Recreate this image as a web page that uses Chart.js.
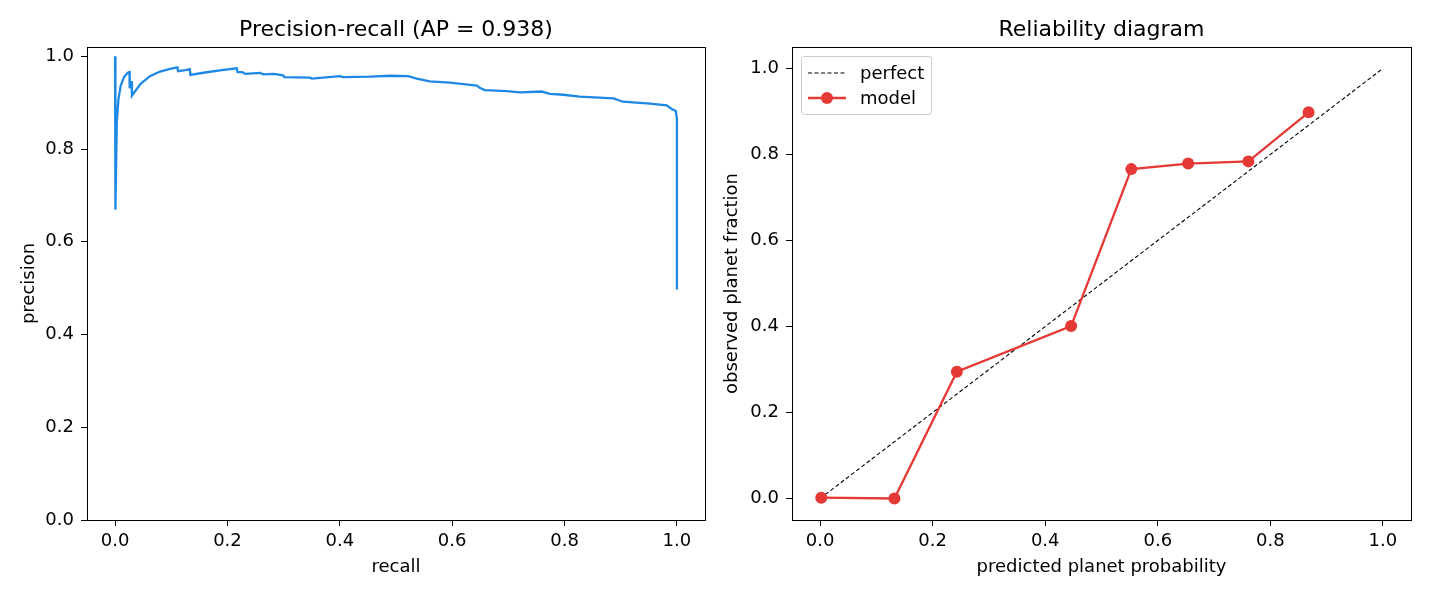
<!DOCTYPE html>
<html>
<head>
<meta charset="utf-8">
<script src="https://cdn.jsdelivr.net/npm/chart.js@4.4.1/dist/chart.umd.min.js"></script>
<style>
  body { margin: 0; background: #fff; }
  #wrap { position: relative; width: 1430px; height: 596px; }
  canvas { position: absolute; top: 0; }
  #prChart { left: 0; }
  #relChart { left: 715px; }
</style>
</head>
<body>
<div id="wrap">
  <canvas id="prChart" width="715" height="596"></canvas>
  <canvas id="relChart" width="715" height="596"></canvas>
</div>
<script>
// precision-recall curve, points
let recall = [0.000, 0.0006, 0.003, 0.006, 0.010, 0.016, 0.022, 0.0255, 0.026, 0.028, 0.0296, 0.030,
    0.045, 0.062, 0.080, 0.098, 0.111, 0.112, 0.125, 0.133, 0.134, 0.160, 0.190, 0.2165, 0.218,
    0.226, 0.232, 0.258, 0.264, 0.282, 0.299, 0.301, 0.347, 0.350, 0.400, 0.406, 0.454, 0.489,
    0.522, 0.537, 0.560, 0.596, 0.620, 0.644, 0.649, 0.658, 0.697, 0.721, 0.759, 0.774, 0.798,
    0.827, 0.887, 0.904, 0.952, 0.982, 0.990, 0.998, 1.000, 1.000];
let precision = [1.000, 0.669, 0.858, 0.908, 0.937, 0.955, 0.964, 0.966, 0.931, 0.944, 0.944, 0.915,
    0.940, 0.957, 0.967, 0.973, 0.976, 0.968, 0.970, 0.972, 0.960, 0.965, 0.970, 0.974, 0.966,
    0.966, 0.962, 0.964, 0.961, 0.962, 0.959, 0.955, 0.954, 0.952, 0.957, 0.955, 0.956, 0.958,
    0.957, 0.952, 0.946, 0.943, 0.940, 0.937, 0.932, 0.927, 0.925, 0.922, 0.924, 0.919, 0.917,
    0.913, 0.909, 0.902, 0.898, 0.894, 0.887, 0.882, 0.865, 0.497];

// reliability diagram
let perfectX = [0, 1];
let perfectY = [0, 1];
let binProb = [0.002, 0.132, 0.243, 0.446, 0.553, 0.654, 0.761, 0.868];
let binFrac = [0.002, 0.000, 0.295, 0.401, 0.766, 0.779, 0.784, 0.898];

let unitTicks = [0, 0.2, 0.4, 0.6, 0.8, 1.0];

Chart.defaults.font.family = '"DejaVu Sans", sans-serif';
Chart.defaults.color = '#000';

function toPoints(xs, ys) {
    return xs.map((x, i) => ({x: x, y: ys[i]}));
}

function makeAxis(min, max, label, horizontal, titlePad, fitSize) {
    return {
        type: 'linear',
        min: min,
        max: max,
        afterBuildTicks: (scale) => { scale.ticks = unitTicks.map((v) => ({value: v})); },
        afterFit: (scale) => {
            if (horizontal) scale.height = fitSize;
            else scale.width = fitSize;
        },
        ticks: {
            font: {size: 18},
            padding: horizontal ? 5 : 7,
            maxRotation: 0,
            autoSkip: false,
            callback: (v) => v.toFixed(1)
        },
        grid: {drawOnChartArea: false, color: '#000', tickLength: 6},
        border: {color: '#000', width: 1},
        title: {
            display: true,
            text: label,
            font: {size: 18},
            padding: horizontal ? {top: 0, bottom: titlePad} : {top: titlePad, bottom: 0}
        }
    };
}

// matplotlib style box round the plot area
const frame = {
    id: 'frame',
    afterDraw(chart) {
        let a = chart.chartArea;
        let ctx = chart.ctx;
        ctx.save();
        ctx.strokeStyle = '#000';
        ctx.lineWidth = 1;
        ctx.strokeRect(Math.round(a.left) + 0.5, Math.round(a.top) + 0.5,
            Math.round(a.right - a.left), Math.round(a.bottom - a.top));
        ctx.restore();
    }
};

// legend drawn inside the plot, upper left
const insideLegend = {
    id: 'insideLegend',
    afterDraw(chart) {
        let a = chart.chartArea;
        let ctx = chart.ctx;
        let x0 = Math.round(a.left) + 9, y0 = Math.round(a.top) + 9;
        ctx.save();
        ctx.fillStyle = 'rgba(255,255,255,0.8)';
        ctx.strokeStyle = '#cccccc';
        ctx.lineWidth = 1;
        ctx.beginPath();
        ctx.roundRect(x0 + 0.5, y0 + 0.5, 130, 58, 3);
        ctx.fill();
        ctx.stroke();
        ctx.font = '18px "DejaVu Sans"';
        ctx.textBaseline = 'middle';
        chart.data.datasets.forEach((ds, i) => {
            let y = y0 + 17 + i * 25;
            ctx.strokeStyle = ds.borderColor;
            ctx.lineWidth = ds.borderWidth;
            ctx.setLineDash(ds.borderDash || []);
            ctx.beginPath();
            ctx.moveTo(x0 + 7, y);
            ctx.lineTo(x0 + 45, y);
            ctx.stroke();
            ctx.setLineDash([]);
            if (ds.pointRadius > 0) {
                ctx.fillStyle = ds.pointBackgroundColor;
                ctx.beginPath();
                ctx.arc(x0 + 26, y, ds.pointRadius, 0, Math.PI * 2);
                ctx.fill();
            }
            ctx.fillStyle = '#000';
            ctx.fillText(ds.label, x0 + 59, y + 1);
        });
        ctx.restore();
    }
};

function titleOpts(text) {
    return {
        display: true,
        text: text,
        fullSize: false,
        font: {size: 22, weight: 'normal'},
        padding: {top: 17, bottom: 3.6}
    };
}

new Chart(document.getElementById('prChart'), {
    type: 'line',
    data: {
        datasets: [{
            label: 'precision',
            data: toPoints(recall, precision),
            borderColor: '#1e88e5',
            borderWidth: 2.3,
            pointRadius: 0,
            fill: false,
            tension: 0
        }]
    },
    options: {
        responsive: false,
        animation: false,
        events: [],
        layout: {padding: {left: 0, right: 10, top: 0, bottom: 0}},
        plugins: {
            legend: {display: false},
            tooltip: {enabled: false},
            title: titleOpts('Precision-recall (AP = 0.938)')
        },
        scales: {
            x: makeAxis(-0.05, 1.05, 'recall', true, 18, 76),
            y: makeAxis(0, 1.02, 'precision', false, 19, 87)
        }
    },
    plugins: [frame]
});

new Chart(document.getElementById('relChart'), {
    type: 'line',
    data: {
        datasets: [{
            label: 'perfect',
            data: toPoints(perfectX, perfectY),
            borderColor: '#000',
            borderWidth: 1.1,
            borderDash: [4, 2.5],
            pointRadius: 0,
            fill: false,
            order: 1
        }, {
            label: 'model',
            data: toPoints(binProb, binFrac),
            borderColor: '#e53935',
            backgroundColor: '#e53935',
            pointBackgroundColor: '#e53935',
            pointBorderWidth: 0,
            borderWidth: 2.3,
            pointRadius: 6,
            fill: false,
            order: 0
        }]
    },
    options: {
        responsive: false,
        animation: false,
        events: [],
        layout: {padding: {left: 0, right: 19, top: 0, bottom: 0}},
        plugins: {
            legend: {display: false},
            tooltip: {enabled: false},
            title: titleOpts('Reliability diagram')
        },
        scales: {
            x: makeAxis(-0.05, 1.05, 'predicted planet probability', true, 18, 76),
            y: makeAxis(-0.05, 1.05, 'observed planet fraction', false, 7, 77)
        }
    },
    plugins: [frame, insideLegend]
});
</script>
</body>
</html>
